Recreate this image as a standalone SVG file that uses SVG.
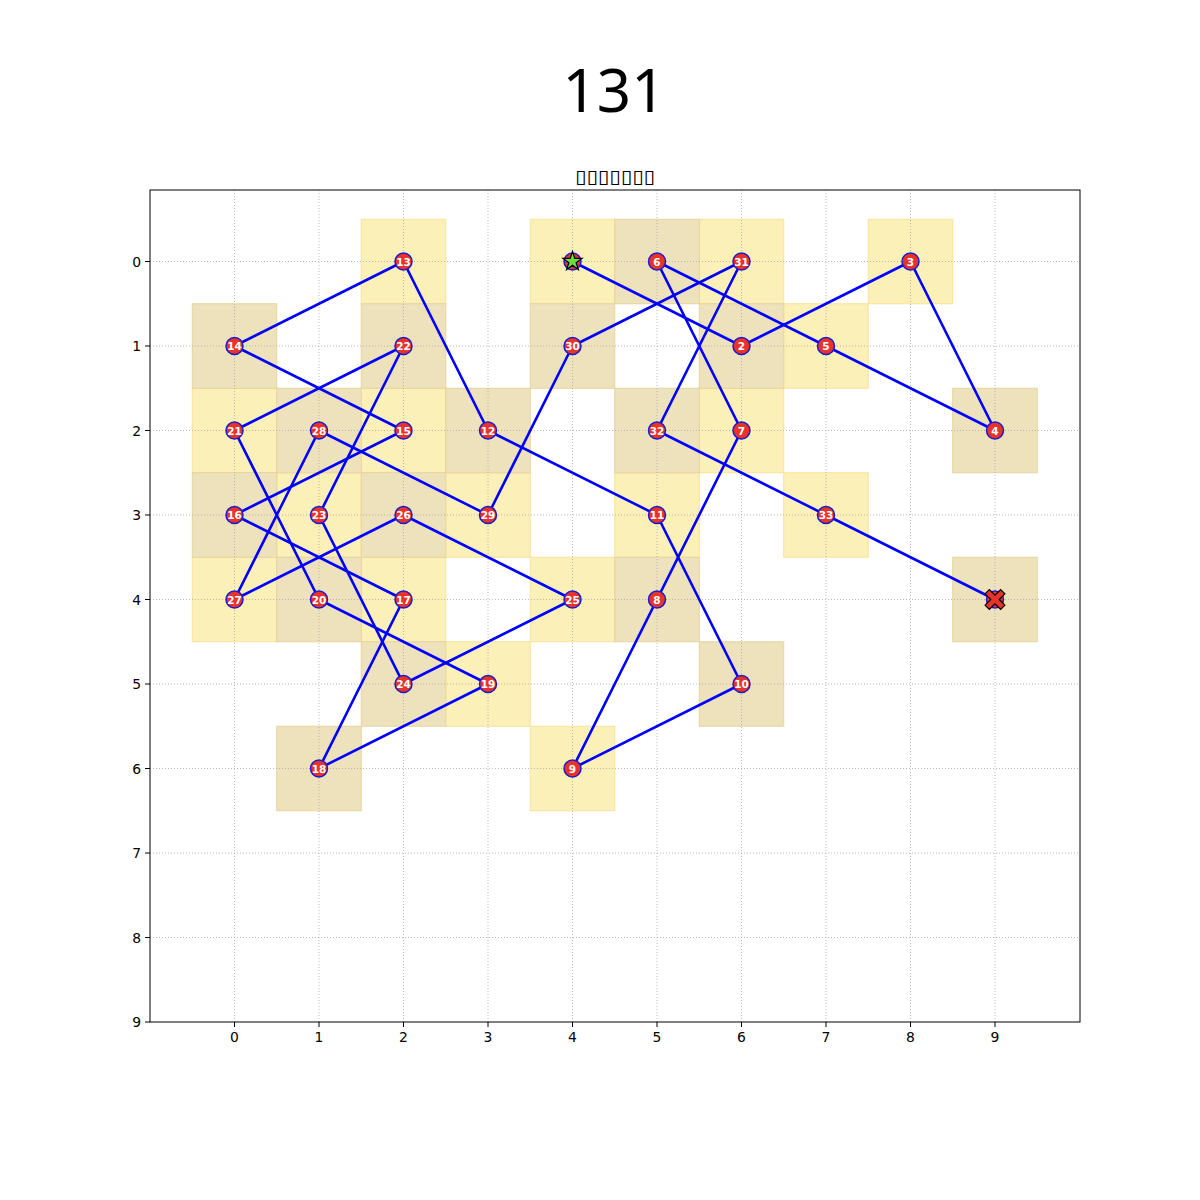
<svg xmlns="http://www.w3.org/2000/svg" width="1200" height="1200" viewBox="0 0 1200 1200">
<style>
.cy{fill:#fcf0b9;stroke:#f7e39a;stroke-width:1}
.ct{fill:#eee2bd;stroke:#e8d49c;stroke-width:1}
.grid{stroke:#a8a8a8;stroke-width:0.8;stroke-dasharray:1,2;fill:none}
.edge{stroke:#0000ff;stroke-width:2.6;stroke-linecap:round}
.nd{fill:#e8332a;stroke:#1c1ccc;stroke-width:1.5}
.lb{fill:#ffffff;font-family:"DejaVu Sans",sans-serif;font-weight:bold;font-size:10.5px;text-anchor:middle}
.tk{fill:#000;font-family:"DejaVu Sans",sans-serif;font-size:13.9px}
.tm{stroke:#000;stroke-width:1}
</style>
<rect width="1200" height="1200" fill="#fff"/>
<text x="614" y="112" font-family="'Noto Sans',sans-serif" font-size="60" text-anchor="middle" fill="#000">131</text>
<text x="615" y="183" font-family="'DejaVu Sans',sans-serif" font-size="19" text-anchor="middle" textLength="80" lengthAdjust="spacingAndGlyphs" fill="#000">▯▯▯▯▯▯▯</text>
<g id="cells">
<rect class="cy" x="530.25" y="219.25" width="84.5" height="84.5"/>
<rect class="cy" x="699.25" y="219.25" width="84.5" height="84.5"/>
<rect class="cy" x="868.25" y="219.25" width="84.5" height="84.5"/>
<rect class="cy" x="361.25" y="219.25" width="84.5" height="84.5"/>
<rect class="cy" x="783.75" y="303.75" width="84.5" height="84.5"/>
<rect class="cy" x="192.25" y="388.25" width="84.5" height="84.5"/>
<rect class="cy" x="361.25" y="388.25" width="84.5" height="84.5"/>
<rect class="cy" x="699.25" y="388.25" width="84.5" height="84.5"/>
<rect class="cy" x="276.75" y="472.75" width="84.5" height="84.5"/>
<rect class="cy" x="445.75" y="472.75" width="84.5" height="84.5"/>
<rect class="cy" x="614.75" y="472.75" width="84.5" height="84.5"/>
<rect class="cy" x="783.75" y="472.75" width="84.5" height="84.5"/>
<rect class="cy" x="192.25" y="557.25" width="84.5" height="84.5"/>
<rect class="cy" x="361.25" y="557.25" width="84.5" height="84.5"/>
<rect class="cy" x="530.25" y="557.25" width="84.5" height="84.5"/>
<rect class="cy" x="445.75" y="641.75" width="84.5" height="84.5"/>
<rect class="cy" x="530.25" y="726.25" width="84.5" height="84.5"/>
<rect class="ct" x="614.75" y="219.25" width="84.5" height="84.5"/>
<rect class="ct" x="192.25" y="303.75" width="84.5" height="84.5"/>
<rect class="ct" x="361.25" y="303.75" width="84.5" height="84.5"/>
<rect class="ct" x="530.25" y="303.75" width="84.5" height="84.5"/>
<rect class="ct" x="699.25" y="303.75" width="84.5" height="84.5"/>
<rect class="ct" x="276.75" y="388.25" width="84.5" height="84.5"/>
<rect class="ct" x="445.75" y="388.25" width="84.5" height="84.5"/>
<rect class="ct" x="614.75" y="388.25" width="84.5" height="84.5"/>
<rect class="ct" x="952.75" y="388.25" width="84.5" height="84.5"/>
<rect class="ct" x="192.25" y="472.75" width="84.5" height="84.5"/>
<rect class="ct" x="361.25" y="472.75" width="84.5" height="84.5"/>
<rect class="ct" x="276.75" y="557.25" width="84.5" height="84.5"/>
<rect class="ct" x="614.75" y="557.25" width="84.5" height="84.5"/>
<rect class="ct" x="952.75" y="557.25" width="84.5" height="84.5"/>
<rect class="ct" x="361.25" y="641.75" width="84.5" height="84.5"/>
<rect class="ct" x="699.25" y="641.75" width="84.5" height="84.5"/>
<rect class="ct" x="276.75" y="726.25" width="84.5" height="84.5"/>
</g>
<g id="grid" class="grid">
<path d="M234.5 190V1022M319 190V1022M403.5 190V1022M488 190V1022M572.5 190V1022M657 190V1022M741.5 190V1022M826 190V1022M910.5 190V1022M995 190V1022"/>
<path d="M150 261.5H1080M150 346H1080M150 430.5H1080M150 515H1080M150 599.5H1080M150 684H1080M150 768.5H1080M150 853H1080M150 937.5H1080"/>
</g>
<rect x="150" y="190" width="930" height="832" fill="none" stroke="#000" stroke-width="1"/>
<g id="ticks">
<path class="tm" d="M234.5 1022V1027M319 1022V1027M403.5 1022V1027M488 1022V1027M572.5 1022V1027M657 1022V1027M741.5 1022V1027M826 1022V1027M910.5 1022V1027M995 1022V1027"/>
<path class="tm" d="M145 261.5H150M145 346H150M145 430.5H150M145 515H150M145 599.5H150M145 684H150M145 768.5H150M145 853H150M145 937.5H150M145 1022H150"/>
<g class="tk" text-anchor="middle">
<text x="234.5" y="1042">0</text><text x="319" y="1042">1</text><text x="403.5" y="1042">2</text><text x="488" y="1042">3</text><text x="572.5" y="1042">4</text><text x="657" y="1042">5</text><text x="741.5" y="1042">6</text><text x="826" y="1042">7</text><text x="910.5" y="1042">8</text><text x="995" y="1042">9</text>
</g>
<g class="tk" text-anchor="end">
<text x="141" y="266.5">0</text><text x="141" y="351">1</text><text x="141" y="435.5">2</text><text x="141" y="520">3</text><text x="141" y="604.5">4</text><text x="141" y="689">5</text><text x="141" y="773.5">6</text><text x="141" y="858">7</text><text x="141" y="942.5">8</text><text x="141" y="1027">9</text>
</g>
</g>
<g id="connectors" class="edge">
<line x1="572.5" y1="261.5" x2="741.5" y2="346"/>
<line x1="741.5" y1="346" x2="910.5" y2="261.5"/>
<line x1="910.5" y1="261.5" x2="995" y2="430.5"/>
<line x1="995" y1="430.5" x2="826" y2="346"/>
<line x1="826" y1="346" x2="657" y2="261.5"/>
<line x1="657" y1="261.5" x2="741.5" y2="430.5"/>
<line x1="741.5" y1="430.5" x2="657" y2="599.5"/>
<line x1="657" y1="599.5" x2="572.5" y2="768.5"/>
<line x1="572.5" y1="768.5" x2="741.5" y2="684"/>
<line x1="741.5" y1="684" x2="657" y2="515"/>
<line x1="657" y1="515" x2="488" y2="430.5"/>
<line x1="488" y1="430.5" x2="403.5" y2="261.5"/>
<line x1="403.5" y1="261.5" x2="234.5" y2="346"/>
<line x1="234.5" y1="346" x2="403.5" y2="430.5"/>
<line x1="403.5" y1="430.5" x2="234.5" y2="515"/>
<line x1="234.5" y1="515" x2="403.5" y2="599.5"/>
<line x1="403.5" y1="599.5" x2="319" y2="768.5"/>
<line x1="319" y1="768.5" x2="488" y2="684"/>
<line x1="488" y1="684" x2="319" y2="599.5"/>
<line x1="319" y1="599.5" x2="234.5" y2="430.5"/>
<line x1="234.5" y1="430.5" x2="403.5" y2="346"/>
<line x1="403.5" y1="346" x2="319" y2="515"/>
<line x1="319" y1="515" x2="403.5" y2="684"/>
<line x1="403.5" y1="684" x2="572.5" y2="599.5"/>
<line x1="572.5" y1="599.5" x2="403.5" y2="515"/>
<line x1="403.5" y1="515" x2="234.5" y2="599.5"/>
<line x1="234.5" y1="599.5" x2="319" y2="430.5"/>
<line x1="319" y1="430.5" x2="488" y2="515"/>
<line x1="488" y1="515" x2="572.5" y2="346"/>
<line x1="572.5" y1="346" x2="741.5" y2="261.5"/>
<line x1="741.5" y1="261.5" x2="657" y2="430.5"/>
<line x1="657" y1="430.5" x2="826" y2="515"/>
<line x1="826" y1="515" x2="995" y2="599.5"/>
</g>
<g id="node-1"><circle class="nd" cx="572.5" cy="261.5" r="8.5"/><polygon transform="translate(572.5 261.5)" points="0,-10 2.25,-3.09 9.51,-3.09 3.63,1.18 5.88,8.09 0,3.82 -5.88,8.09 -3.63,1.18 -9.51,-3.09 -2.25,-3.09" fill="#66e03a" stroke="#000" stroke-width="1.2"/></g>
<g id="node-2"><circle class="nd" cx="741.5" cy="346" r="8.5"/><text class="lb" x="741.5" y="350">2</text></g>
<g id="node-3"><circle class="nd" cx="910.5" cy="261.5" r="8.5"/><text class="lb" x="910.5" y="265.5">3</text></g>
<g id="node-4"><circle class="nd" cx="995" cy="430.5" r="8.5"/><text class="lb" x="995" y="434.5">4</text></g>
<g id="node-5"><circle class="nd" cx="826" cy="346" r="8.5"/><text class="lb" x="826" y="350">5</text></g>
<g id="node-6"><circle class="nd" cx="657" cy="261.5" r="8.5"/><text class="lb" x="657" y="265.5">6</text></g>
<g id="node-7"><circle class="nd" cx="741.5" cy="430.5" r="8.5"/><text class="lb" x="741.5" y="434.5">7</text></g>
<g id="node-8"><circle class="nd" cx="657" cy="599.5" r="8.5"/><text class="lb" x="657" y="603.5">8</text></g>
<g id="node-9"><circle class="nd" cx="572.5" cy="768.5" r="8.5"/><text class="lb" x="572.5" y="772.5">9</text></g>
<g id="node-10"><circle class="nd" cx="741.5" cy="684" r="8.5"/><text class="lb" x="741.5" y="688">10</text></g>
<g id="node-11"><circle class="nd" cx="657" cy="515" r="8.5"/><text class="lb" x="657" y="519">11</text></g>
<g id="node-12"><circle class="nd" cx="488" cy="430.5" r="8.5"/><text class="lb" x="488" y="434.5">12</text></g>
<g id="node-13"><circle class="nd" cx="403.5" cy="261.5" r="8.5"/><text class="lb" x="403.5" y="265.5">13</text></g>
<g id="node-14"><circle class="nd" cx="234.5" cy="346" r="8.5"/><text class="lb" x="234.5" y="350">14</text></g>
<g id="node-15"><circle class="nd" cx="403.5" cy="430.5" r="8.5"/><text class="lb" x="403.5" y="434.5">15</text></g>
<g id="node-16"><circle class="nd" cx="234.5" cy="515" r="8.5"/><text class="lb" x="234.5" y="519">16</text></g>
<g id="node-17"><circle class="nd" cx="403.5" cy="599.5" r="8.5"/><text class="lb" x="403.5" y="603.5">17</text></g>
<g id="node-18"><circle class="nd" cx="319" cy="768.5" r="8.5"/><text class="lb" x="319" y="772.5">18</text></g>
<g id="node-19"><circle class="nd" cx="488" cy="684" r="8.5"/><text class="lb" x="488" y="688">19</text></g>
<g id="node-20"><circle class="nd" cx="319" cy="599.5" r="8.5"/><text class="lb" x="319" y="603.5">20</text></g>
<g id="node-21"><circle class="nd" cx="234.5" cy="430.5" r="8.5"/><text class="lb" x="234.5" y="434.5">21</text></g>
<g id="node-22"><circle class="nd" cx="403.5" cy="346" r="8.5"/><text class="lb" x="403.5" y="350">22</text></g>
<g id="node-23"><circle class="nd" cx="319" cy="515" r="8.5"/><text class="lb" x="319" y="519">23</text></g>
<g id="node-24"><circle class="nd" cx="403.5" cy="684" r="8.5"/><text class="lb" x="403.5" y="688">24</text></g>
<g id="node-25"><circle class="nd" cx="572.5" cy="599.5" r="8.5"/><text class="lb" x="572.5" y="603.5">25</text></g>
<g id="node-26"><circle class="nd" cx="403.5" cy="515" r="8.5"/><text class="lb" x="403.5" y="519">26</text></g>
<g id="node-27"><circle class="nd" cx="234.5" cy="599.5" r="8.5"/><text class="lb" x="234.5" y="603.5">27</text></g>
<g id="node-28"><circle class="nd" cx="319" cy="430.5" r="8.5"/><text class="lb" x="319" y="434.5">28</text></g>
<g id="node-29"><circle class="nd" cx="488" cy="515" r="8.5"/><text class="lb" x="488" y="519">29</text></g>
<g id="node-30"><circle class="nd" cx="572.5" cy="346" r="8.5"/><text class="lb" x="572.5" y="350">30</text></g>
<g id="node-31"><circle class="nd" cx="741.5" cy="261.5" r="8.5"/><text class="lb" x="741.5" y="265.5">31</text></g>
<g id="node-32"><circle class="nd" cx="657" cy="430.5" r="8.5"/><text class="lb" x="657" y="434.5">32</text></g>
<g id="node-33"><circle class="nd" cx="826" cy="515" r="8.5"/><text class="lb" x="826" y="519">33</text></g>
<g id="node-34"><circle class="nd" cx="995" cy="599.5" r="8.5"/><polygon transform="translate(995 599.5) rotate(45)" points="-3,-11 3,-11 3,-3 11,-3 11,3 3,3 3,11 -3,11 -3,3 -11,3 -11,-3 -3,-3" fill="#e8332a" stroke="#000" stroke-width="1.2"/></g>
</svg>
